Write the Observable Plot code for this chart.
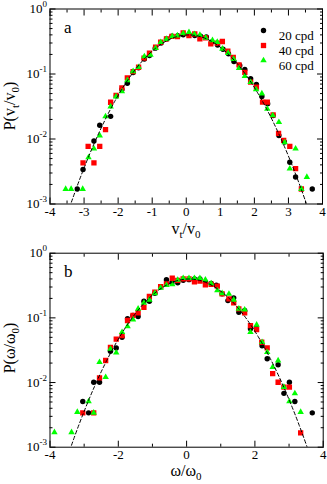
<!DOCTYPE html>
<html><head><meta charset="utf-8">
<script src="https://cdn.jsdelivr.net/npm/d3@7"></script>
<script src="https://cdn.jsdelivr.net/npm/@observablehq/plot@0.6"></script>
<style>
body{margin:0;background:#fff;}
#chart{position:relative;width:327px;height:484px;overflow:hidden;background:#fff;}
#chart svg{display:block;}
</style></head><body><div id="chart"></div>
<script>
// ---- panel a : P(vt/v0) ----
const aX20 = [-3.20,-3.03,-2.71,-2.54,-2.22,-2.05,-1.89,-1.73,-1.56,-1.40,-1.23,-1.08,-0.91,-0.74,-0.58,-0.42,-0.25,-0.09,0.08,0.25,0.42,0.59,0.75,0.92,1.08,1.24,1.40,1.57,1.72,1.89,2.06,2.22,2.39,2.55,2.72,2.88,3.04,3.21,3.70];
const aY20 = [0.0017,0.0034,0.0093,0.0163,0.0223,0.046,0.058,0.072,0.105,0.125,0.17,0.192,0.25,0.30,0.345,0.38,0.39,0.40,0.40,0.39,0.38,0.37,0.31,0.28,0.24,0.205,0.156,0.135,0.117,0.085,0.069,0.045,0.035,0.023,0.0113,0.009,0.0044,0.0026,0.0017];
const aX40 = [-3.03,-2.88,-2.71,-2.54,-2.37,-2.22,-2.06,-1.89,-1.73,-1.56,-1.40,-1.24,-1.08,-0.90,-0.75,-0.58,-0.42,-0.26,-0.09,0.08,0.25,0.40,0.57,0.72,0.91,1.06,1.22,1.38,1.55,1.72,1.89,2.06,2.24,2.38,2.55,2.71,2.86,3.04,3.21,3.38];
const aY40 = [0.0043,0.0077,0.0043,0.0077,0.0139,0.0368,0.047,0.061,0.087,0.109,0.127,0.175,0.209,0.258,0.31,0.347,0.38,0.377,0.43,0.39,0.415,0.348,0.36,0.29,0.298,0.316,0.225,0.18,0.138,0.106,0.075,0.063,0.037,0.037,0.0235,0.0122,0.0095,0.0077,0.0035,0.0017];
const aX60 = [-3.54,-3.38,-3.04,-2.87,-2.71,-2.54,-2.37,-2.22,-2.06,-1.89,-1.73,-1.56,-1.40,-1.23,-1.05,-0.90,-0.75,-0.58,-0.41,-0.26,-0.09,0.08,0.24,0.40,0.57,0.77,0.91,1.06,1.23,1.39,1.55,1.72,1.89,2.05,2.22,2.38,2.54,2.72,2.89,3.04,3.21,3.38,3.54];
const aY60 = [0.0017,0.0017,0.0017,0.0052,0.0071,0.0113,0.0222,0.0316,0.045,0.054,0.08,0.11,0.127,0.186,0.197,0.25,0.308,0.345,0.38,0.39,0.42,0.44,0.41,0.40,0.36,0.33,0.31,0.244,0.21,0.17,0.123,0.093,0.075,0.058,0.05,0.029,0.023,0.0181,0.0089,0.0035,0.0071,0.0017,0.0026];

// ---- panel b : P(omega/omega0) ----
const bX20 = [-3.04,-2.87,-2.72,-2.55,-2.23,-2.06,-1.89,-1.73,-1.57,-1.42,-1.25,-1.09,-0.93,-0.76,-0.59,-0.43,-0.26,-0.10,0.07,0.23,0.39,0.55,0.72,0.87,1.04,1.21,1.38,1.53,1.70,1.87,2.04,2.21,2.36,2.68,2.85,3.01,3.17,3.68];
const bY20 = [0.0051,0.0034,0.0101,0.0101,0.0305,0.0343,0.050,0.097,0.109,0.105,0.181,0.181,0.24,0.30,0.39,0.35,0.348,0.38,0.39,0.40,0.40,0.36,0.34,0.32,0.235,0.185,0.204,0.122,0.13,0.068,0.07,0.037,0.0233,0.0188,0.0068,0.0101,0.0051,0.0034];
const bX40 = [-3.04,-2.72,-2.55,-2.37,-2.23,-2.06,-1.89,-1.73,-1.57,-1.42,-1.25,-1.09,-0.93,-0.76,-0.59,-0.42,-0.26,-0.10,0.07,0.23,0.39,0.55,0.72,0.90,1.04,1.24,1.38,1.53,1.70,1.87,2.05,2.20,2.36,2.52,2.68,2.85,3.01,3.34];
const bY40 = [0.0034,0.0034,0.0118,0.0219,0.035,0.047,0.053,0.091,0.109,0.12,0.146,0.214,0.25,0.305,0.336,0.41,0.38,0.40,0.40,0.36,0.37,0.325,0.33,0.31,0.235,0.197,0.17,0.138,0.12,0.076,0.066,0.042,0.0344,0.0137,0.0101,0.0085,0.0085,0.00167];
const bX60 = [-3.87,-3.37,-3.20,-2.87,-2.72,-2.55,-2.37,-2.23,-2.06,-1.89,-1.73,-1.57,-1.42,-1.25,-1.09,-0.93,-0.76,-0.59,-0.42,-0.26,-0.10,0.07,0.23,0.39,0.55,0.72,0.90,1.04,1.24,1.38,1.53,1.70,1.87,2.05,2.21,2.36,2.52,2.68,2.85,3.01,3.17,3.34];
const bY60 = [0.0017,0.0017,0.0035,0.0051,0.0034,0.0206,0.0121,0.033,0.029,0.06,0.074,0.094,0.138,0.17,0.19,0.24,0.29,0.32,0.328,0.385,0.41,0.41,0.41,0.41,0.39,0.34,0.265,0.24,0.235,0.19,0.138,0.134,0.06,0.078,0.042,0.0294,0.0173,0.0219,0.0085,0.0051,0.0068,0.0035];

// ---- dashed reference curve ----
const fitX = [-3.6,-3.3,-3.0,-2.7,-2.4,-2.1,-1.8,-1.5,-1.2,-0.9,-0.6,-0.3,0,0.3,0.6,0.9,1.2,1.5,1.8,2.1,2.4,2.7,3.0,3.3,3.6,3.8];
const fitY = [0.000475,0.001365,0.003587,0.00861,0.01889,0.03789,0.06945,0.1163,0.1782,0.2493,0.3189,0.3725,0.3979,0.3885,0.3466,0.2827,0.2107,0.1435,0.08937,0.05086,0.02643,0.01256,0.005458,0.002166,0.000786,0.000380];

// ---- ticks / labels ----
const xMajorA = [-4,-3,-2,-1,0,1,2,3,4];
const xMinorA = [-3.5,-2.5,-1.5,-0.5,0.5,1.5,2.5,3.5];
const xMajorB = [-4,-2,0,2,4];
const xMinorB = [-3,-1,1,3];
const yMajor = [0.001,0.01,0.1,1];
const yMinor = [0.002,0.003,0.004,0.005,0.006,0.007,0.008,0.009,0.02,0.03,0.04,0.05,0.06,0.07,0.08,0.09,0.2,0.3,0.4,0.5,0.6,0.7,0.8,0.9];
const seriesNames = ["20 cpd","40 cpd","60 cpd"];
const seriesColors = ["#000000","#ff0000","#00ff00"];
const seriesSymbols = ["circle","square","triangle"];
const seriesR = [2.7,3.0,2.4];
const panelLetters = ["a","b"];
const xTitleA = [["v",0],["t",1],["/v",0],["0",1]];
const yTitleA = [["P(v",0],["t",1],["/v",0],["0",1],[")",0]];
const xTitleB = [["ω/ω",0],["0",1]];
const yTitleB = [["P(ω/ω",0],["0",1],[")",0]];

const FONT = "'Liberation Serif','Times New Roman',serif";
const zip = (xs, ys) => xs.map((x, i) => ({x, y: ys[i]}));
const fmtX = d => (d < 0 ? "-" + Math.abs(d) : String(d));
const fmtY = d => "10^" + Math.round(Math.log10(d));

function panel({series, xMajor, xMinor, letter, legend, mt, mb, ml, mr}) {
  const marks = [];
  for (const anchor of ["bottom", "top"]) {
    marks.push(Plot.axisX(xMajor, {anchor, tickSize: -6, fill: "none", label: null}));
    marks.push(Plot.axisX(xMinor, {anchor, tickSize: -3, fill: "none", label: null}));
  }
  for (const anchor of ["left", "right"]) {
    marks.push(Plot.axisY(yMajor, {anchor, tickSize: -6, fill: "none", label: null}));
    marks.push(Plot.axisY(yMinor, {anchor, tickSize: -3, fill: "none", label: null}));
  }
  marks.push(Plot.axisX(xMajor, {anchor: "bottom", tickSize: 0, tickPadding: 3, tickFormat: fmtX, label: null, fontSize: 13}));
  marks.push(Plot.axisY(yMajor, {anchor: "left", tickSize: 0, tickPadding: 3, tickFormat: fmtY, label: null, fontSize: 13}));
  series.forEach((s, i) => {
    marks.push(Plot.dot(zip(s[0], s[1]), {x: "x", y: "y", symbol: seriesSymbols[i], fill: seriesColors[i], r: seriesR[i], clip: true}));
  });
  marks.push(Plot.line(zip(fitX, fitY), {x: "x", y: "y", stroke: "black", strokeWidth: 1, strokeDasharray: "3.5,2.5", curve: "natural", clip: true}));
  marks.push(Plot.frame({stroke: "black", strokeWidth: 1}));
  marks.push(Plot.text([letter], {frameAnchor: "top-left", dx: 14, dy: 12, text: d => d, fontSize: 17}));
  if (legend) {
    seriesNames.forEach((name, i) => {
      marks.push(Plot.dot([name], {frameAnchor: "top-left", dx: 213.5, dy: 21.5 + i * 15, symbol: seriesSymbols[i], fill: seriesColors[i], r: seriesR[i]}));
      marks.push(Plot.text([name], {frameAnchor: "top-left", dx: 228.8, dy: 21.5 + i * 15, text: d => d, textAnchor: "start", fontSize: 13}));
    });
  }
  return Plot.plot({
    width: 327, height: 242,
    marginTop: mt, marginBottom: mb, marginLeft: ml, marginRight: mr,
    x: {domain: [-4, 4]},
    y: {type: "log", domain: [1e-3, 1]},
    style: {fontFamily: FONT, fontSize: "13px", background: "white", color: "black"},
    marks
  });
}

function richText(sel, parts, size, subSize) {
  let shifted = false;
  for (const [t, sub] of parts) {
    const ts = sel.append("tspan").text(t);
    if (sub && !shifted) { ts.attr("dy", 4).attr("font-size", subSize); shifted = true; }
    else if (sub) { ts.attr("font-size", subSize); }
    else if (!sub && shifted) { ts.attr("dy", -4).attr("font-size", size); shifted = false; }
    else ts.attr("font-size", size);
  }
}

function finish(svg, xTitle, yTitle) {
  const s = d3.select(svg);
  s.selectAll('g[aria-label="y-axis tick label"] text').each(function () {
    const t = this.textContent;
    const m = t.match(/^10\^(.+)$/);
    if (!m) return;
    const e = d3.select(this);
    e.text(null);
    e.append("tspan").text("10");
    e.append("tspan").attr("dy", -6).attr("font-size", 9).text(m[1].replace("−", "-"));
  });
  const xt = s.append("text").attr("x", 186).attr("y", 233.5).attr("text-anchor", "middle")
    .attr("font-family", FONT).attr("fill", "black");
  richText(xt, xTitle, 16, 11);
  const yt = s.append("text").attr("transform", "translate(14.5,106) rotate(-90)").attr("text-anchor", "middle")
    .attr("font-family", FONT).attr("fill", "black");
  richText(yt, yTitle, 16, 11);
  return svg;
}

const chart = document.getElementById("chart");
const pa = panel({series: [[aX20, aY20], [aX40, aY40], [aX60, aY60]], xMajor: xMajorA, xMinor: xMinorA,
  letter: panelLetters[0], legend: true, mt: 8.5, mb: 38.5, ml: 49.5, mr: 5});
const pb = panel({series: [[bX20, bY20], [bX40, bY40], [bX60, bY60]], xMajor: xMajorB, xMinor: xMinorB,
  letter: panelLetters[1], legend: false, mt: 10.7, mb: 37.3, ml: 49.5, mr: 4.3});
chart.appendChild(finish(pa, xTitleA, yTitleA));
chart.appendChild(finish(pb, xTitleB, yTitleB));
</script>
</body></html>
